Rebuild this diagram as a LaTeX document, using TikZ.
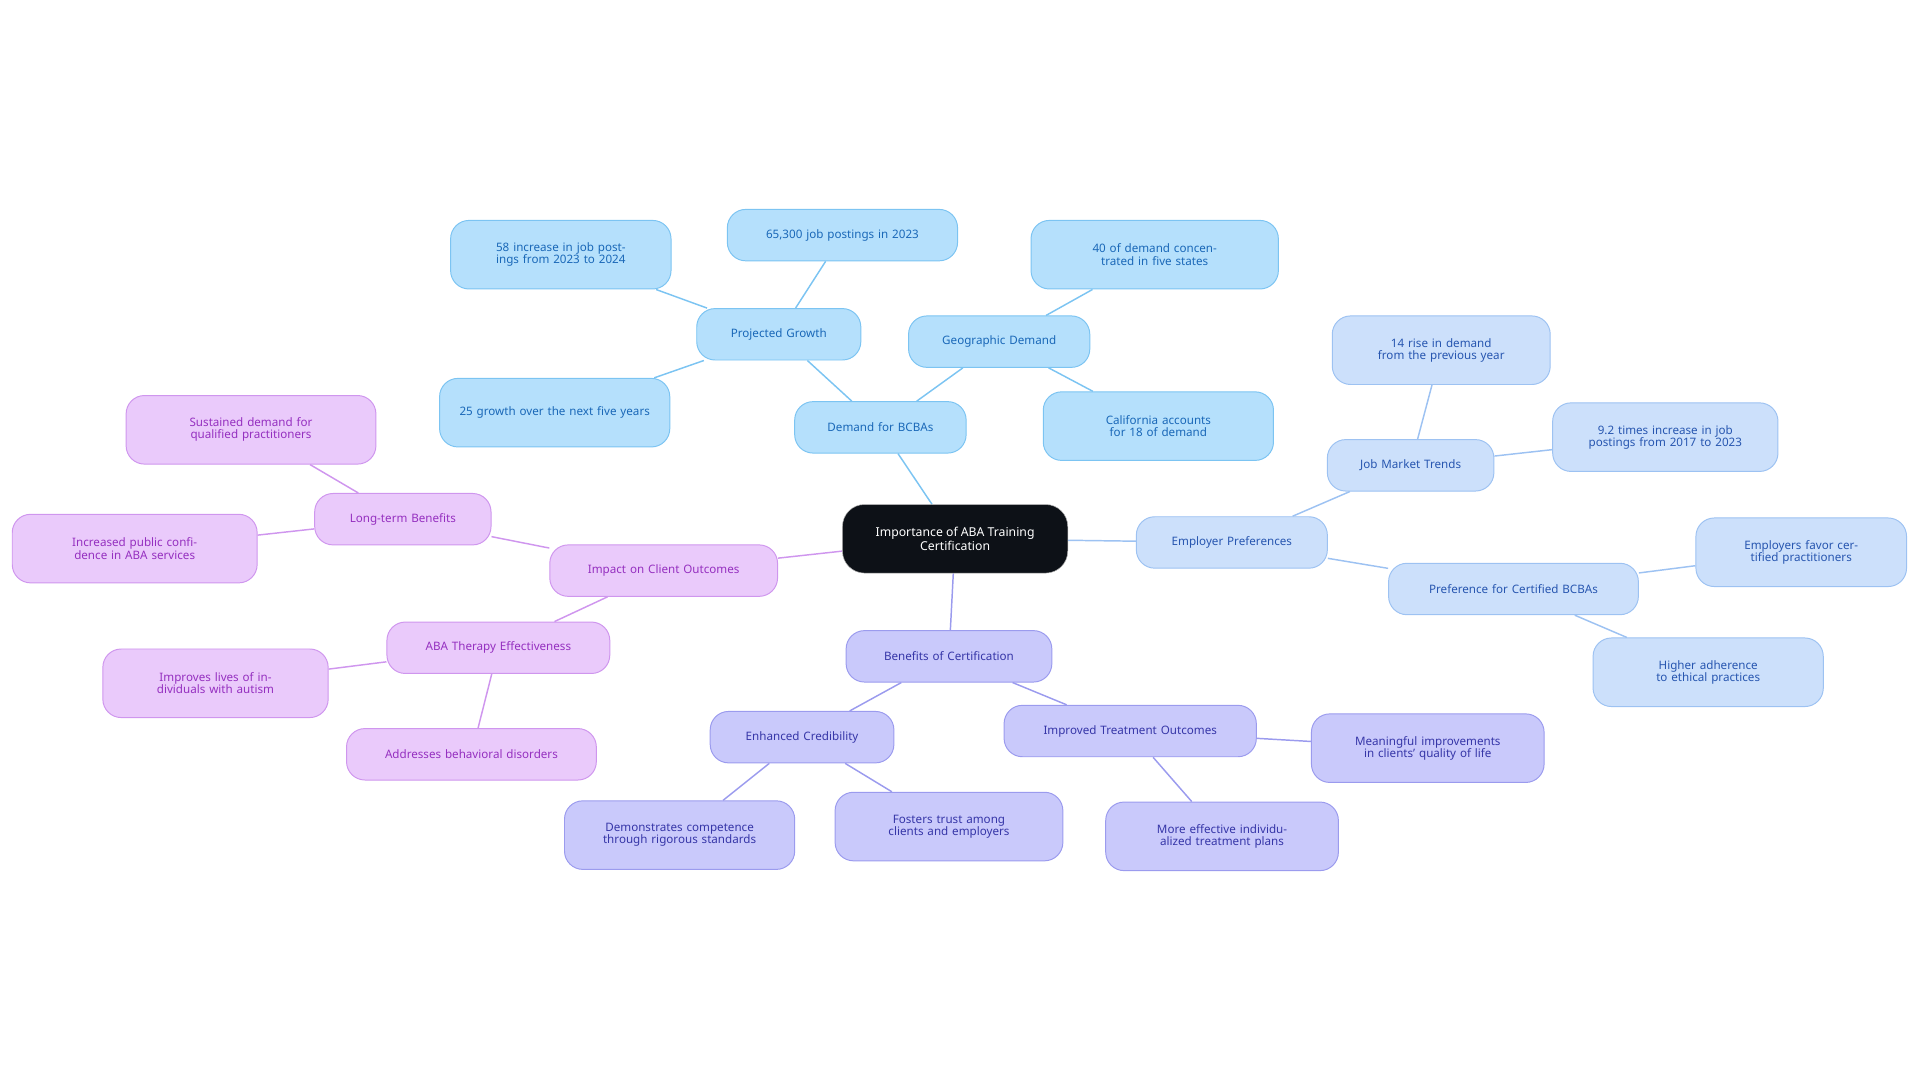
\documentclass[tikz,border=0pt]{standalone}
\usepackage{fontspec}
\setmainfont{Noto Sans}
\usetikzlibrary{backgrounds}
\definecolor{bF}{HTML}{B5E0FC}\definecolor{bD}{HTML}{7CC4F2}\definecolor{bT}{HTML}{1A68B8}
\definecolor{lF}{HTML}{CCE0FB}\definecolor{lD}{HTML}{9DC2F2}\definecolor{lT}{HTML}{2756B0}
\definecolor{iF}{HTML}{C9C9FB}\definecolor{iD}{HTML}{9B9BEE}\definecolor{iT}{HTML}{3636A8}
\definecolor{pF}{HTML}{EACAFB}\definecolor{pD}{HTML}{CF96EE}\definecolor{pT}{HTML}{9530C0}
\definecolor{cF}{HTML}{0D1117}
\tikzset{
 box/.style={rounded corners=15pt,align=center,inner sep=2pt,font=\fontsize{9.5}{10}\selectfont,line width=0.8pt},
 bb/.style={box,fill=bF,draw=bD,text=bT},
 lb/.style={box,fill=lF,draw=lD,text=lT},
 ib/.style={box,fill=iF,draw=iD,text=iT},
 pb/.style={box,fill=pF,draw=pD,text=pT},
 bl/.style={draw=bD,line width=1.2pt},
 ll/.style={draw=lD,line width=1.2pt},
 il/.style={draw=iD,line width=1.2pt},
 pl/.style={draw=pD,line width=1.2pt},
}
\newcommand{\N}[7]{\node[#1,minimum width=#4pt,minimum height=#5pt,text width=\dimexpr#4pt-20pt\relax] (#6) at (#2,-#3) {#7};}
\begin{document}
\begin{tikzpicture}[x=1pt,y=1pt]
\useasboundingbox (0,0) rectangle (1568,-884.4);
\node[rounded corners=18pt,fill=cF,draw=gray!60,text=white,align=center,minimum width=184pt,minimum height=56pt,font=\fontsize{10}{11}\selectfont] (c) at (780,-440) {Importance of ABA Training\\Certification};
\N{bb}{719}{349}{140}{42}{d}{Demand for BCBAs}
\N{bb}{636}{273}{134}{42}{pg}{Projected Growth}
\N{bb}{688}{192}{188}{42}{pg1}{65,300 job postings in 2023}
\N{bb}{458}{208}{180}{56}{pg2}{58 increase in job postings from 2023 to 2024}
\N{bb}{453}{337}{188}{56}{pg3}{25 growth over the next five years}
\N{bb}{816}{279}{148}{42}{gd}{Geographic Demand}
\N{bb}{943}{208}{202}{56}{gd1}{40 of demand concentrated in five states}
\N{bb}{946}{348}{188}{56}{gd2}{California accounts for 18 of demand}
\N{lb}{1006}{443}{156}{42}{ep}{Employer Preferences}
\N{lb}{1152}{380}{136}{42}{jm}{Job Market Trends}
\N{lb}{1177}{286}{178}{56}{jm1}{14 rise in demand from the previous year}
\N{lb}{1360}{357}{184}{56}{jm2}{9.2 times increase in job postings from 2017 to 2023}
\N{lb}{1236}{481}{204}{42}{pc}{Preference for Certified BCBAs}
\N{lb}{1471}{451}{172}{56}{pc1}{Employers favor certified practitioners}
\N{lb}{1395}{549}{188}{56}{pc2}{Higher adherence to ethical practices}
\N{ib}{775}{536}{168}{42}{bc}{Benefits of Certification}
\N{ib}{655}{602}{150}{42}{ec}{Enhanced Credibility}
\N{ib}{555}{682}{188}{56}{ec1}{Demonstrates competence through rigorous standards}
\N{ib}{775}{675}{186}{56}{ec2}{Fosters trust among clients and employers}
\N{ib}{923}{597}{206}{42}{it}{Improved Treatment Outcomes}
\N{ib}{1166}{611}{190}{56}{it1}{Meaningful improvements in clients' quality of life}
\N{ib}{998}{683}{190}{56}{it2}{More effective individualized treatment plans}
\N{pb}{542}{466}{186}{42}{ic}{Impact on Client Outcomes}
\N{pb}{329}{424}{144}{42}{lt}{Long-term Benefits}
\N{pb}{205}{351}{204}{56}{lt1}{Sustained demand for qualified practitioners}
\N{pb}{110}{448}{200}{56}{lt2}{Increased public confidence in ABA services}
\N{pb}{407}{529}{182}{42}{at}{ABA Therapy Effectiveness}
\N{pb}{176}{558}{184}{56}{at1}{Improves lives of individuals with autism}
\N{pb}{385}{616}{204}{42}{at2}{Addresses behavioral disorders}
\begin{scope}[on background layer]
\path[bl] (c) -- (d) (d) -- (pg) (pg) -- (pg1) (pg) -- (pg2) (pg) -- (pg3) (d) -- (gd) (gd) -- (gd1) (gd) -- (gd2);
\path[ll] (c) -- (ep) (ep) -- (jm) (jm) -- (jm1) (jm) -- (jm2) (ep) -- (pc) (pc) -- (pc1) (pc) -- (pc2);
\path[il] (c) -- (bc) (bc) -- (ec) (ec) -- (ec1) (ec) -- (ec2) (bc) -- (it) (it) -- (it1) (it) -- (it2);
\path[pl] (c) -- (ic) (ic) -- (lt) (lt) -- (lt1) (lt) -- (lt2) (ic) -- (at) (at) -- (at1) (at) -- (at2);
\end{scope}
\end{tikzpicture}
\end{document}
